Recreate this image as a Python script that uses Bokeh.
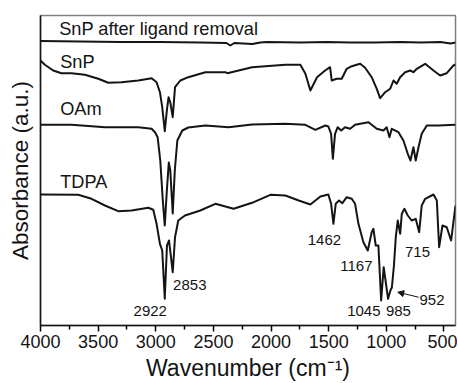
from bokeh.plotting import figure
from bokeh.models import Range1d, FixedTicker, Arrow, NormalHead
from bokeh.core.properties import value
from bokeh.embed import file_html
from bokeh.resources import INLINE

# ---- data (wavenumber in cm^-1, absorbance in a.u., traces offset) ----
wn_removed = [4000, 3655, 3308, 2961, 2614, 2388, 2353, 2318, 2162, 2093, 2032,
              1746, 1520, 1312, 1100, 878, 700, 530, 443, 400]
ab_removed = [2.845, 2.84, 2.835, 2.835, 2.83, 2.825, 2.80, 2.825, 2.815, 2.83, 2.835,
              2.83, 2.835, 2.83, 2.83, 2.835, 2.83, 2.835, 2.82, 2.83]

wn_snp = [4000, 3962, 3890, 3818, 3731, 3615, 3499, 3412, 3297, 3152, 3036, 2993,
          2964, 2944, 2922, 2904, 2889, 2874, 2853, 2833, 2787, 2718, 2570, 2397,
          2379, 2165, 1876, 1746, 1702, 1659, 1601, 1531, 1488, 1474, 1431, 1387,
          1344, 1300, 1227, 1184, 1127, 1083, 1054, 1010, 967, 938, 910, 880, 837,
          793, 765, 736, 663, 591, 533, 476, 418, 400]
ab_snp = [2.65, 2.607, 2.55, 2.523, 2.523, 2.507, 2.467, 2.427, 2.433, 2.45, 2.473, 2.433,
          2.333, 2.183, 1.943, 2.15, 2.283, 2.23, 2.083, 2.383, 2.45, 2.483, 2.533, 2.533,
          2.523, 2.583, 2.607, 2.607, 2.517, 2.35, 2.483, 2.55, 2.583, 2.45, 2.467, 2.467,
          2.567, 2.593, 2.617, 2.577, 2.483, 2.367, 2.273, 2.333, 2.367, 2.45, 2.417, 2.483, 2.533,
          2.55, 2.533, 2.567, 2.617, 2.55, 2.50, 2.523, 2.60, 2.61]

wn_oam = [4000, 3731, 3441, 3152, 3036, 3007, 2984, 2961, 2939, 2922, 2904, 2887,
          2874, 2853, 2835, 2813, 2770, 2718, 2570, 2368, 2165, 1876, 1702, 1616,
          1529, 1503, 1479, 1464, 1445, 1422, 1392, 1358, 1314, 1271, 1155, 1083,
          1025, 997, 973, 953, 895, 852, 814, 791, 765, 745, 721, 693, 649, 548, 400]
ab_oam = [2.007, 2.007, 1.983, 1.983, 1.967, 1.933, 1.883, 1.65, 1.25, 1.00, 1.35, 1.63,
          1.55, 1.12, 1.55, 1.85, 1.95, 1.98, 2.00, 1.983, 2.01, 2.017, 2.007, 1.957,
          2.00, 1.99, 1.917, 1.667, 1.917, 1.983, 1.95, 1.983, 1.967, 2.007, 2.033, 1.967,
          1.95, 1.983, 1.883, 1.967, 1.933, 1.85, 1.717, 1.65, 1.783, 1.65, 1.783, 1.917, 2.00, 2.00, 2.007]

wn_tdpa = [4000, 3673, 3557, 3441, 3326, 3210, 3065, 3022, 2993, 2964, 2944, 2922,
           2903, 2885, 2853, 2833, 2805, 2747, 2614, 2483, 2325, 2165, 2006, 1876,
           1760, 1659, 1572, 1503, 1479, 1459, 1439, 1410, 1381, 1344, 1300, 1271,
           1242, 1199, 1161, 1127, 1112, 1092, 1069, 1045, 1023, 985, 965, 952, 934,
           918, 901, 880, 866, 843, 814, 780, 745, 715, 693, 663, 591, 562, 542, 513,
           476, 438, 409, 400]
ab_tdpa = [1.31, 1.307, 1.267, 1.20, 1.143, 1.15, 1.177, 1.157, 1.017, 0.817, 0.75, 0.267,
           0.80, 0.85, 0.533, 0.883, 1.05, 1.10, 1.15, 1.217, 1.167, 1.227, 1.307, 1.30,
           1.25, 1.21, 1.29, 1.31, 1.217, 1.017, 1.217, 1.25, 1.223, 1.283, 1.267, 1.217,
           1.017, 0.833, 0.75, 0.933, 0.967, 0.80, 0.80, 0.25, 0.583, 0.267, 0.35, 0.38, 0.60,
           0.883, 1.05, 0.917, 1.117, 1.167, 1.10, 1.05, 1.067, 0.933, 1.20, 1.267, 1.31, 1.25, 0.783, 1.00,
           0.983, 0.85, 1.117, 1.20]

trace_names = ["SnP after ligand removal", "SnP", "OAm", "TDPA"]
peak_labels = ["2922", "2853", "1462", "1167", "715", "1045", "985", "952"]
x_ticks = [4000, 3500, 3000, 2500, 2000, 1500, 1000, 500]
x_minor = [3750, 3250, 2750, 2250, 1750, 1250, 750]
x_title = "Wavenumber (cm\u207b\u00b9)"
y_title = "Absorbance (a.u.)"

# ---- layout positions (wavenumber, absorbance) for the text ----
name_pos = [(3838, 2.965), (3829, 2.635), (3829, 2.165), (3829, 1.435)]
peak_pos = [(3048, 0.15), (2705, 0.41), (1537, 0.86), (1260, 0.60),
            (730, 0.74), (1195, 0.15), (895, 0.15), (604, 0.26)]

FONT = "Liberation Sans"
INK = "#141414"

p = figure(width=457, height=383, output_backend="svg", toolbar_location=None,
           x_range=Range1d(4000, 400), y_range=Range1d(0, 3.1),
           min_border_left=40, min_border_top=15, min_border_right=2, min_border_bottom=58)
p.grid.visible = False
p.outline_line_color = "#808080"
p.outline_line_width = 1.5

for wn, ab in [(wn_removed, ab_removed), (wn_snp, ab_snp), (wn_oam, ab_oam), (wn_tdpa, ab_tdpa)]:
    p.line(wn, ab, line_color=INK, line_width=2, line_join="round")

p.text(x=[q[0] for q in name_pos], y=[q[1] for q in name_pos], text=trace_names,
       text_font=value(FONT), text_font_size="18.2px", text_color=INK,
       text_baseline="middle", text_align="left")
p.text(x=[q[0] for q in peak_pos], y=[q[1] for q in peak_pos], text=peak_labels,
       text_font=value(FONT), text_font_size="15px", text_color=INK,
       text_baseline="middle", text_align="center")

p.add_layout(Arrow(end=NormalHead(size=6, fill_color=INK, line_color=INK),
                   x_start=720, y_start=0.283, x_end=901, y_end=0.333,
                   line_color=INK, line_width=1))

xa = p.xaxis[0]
xa.ticker = FixedTicker(ticks=x_ticks, minor_ticks=x_minor)
xa.axis_label = x_title
xa.axis_label_text_font = FONT
xa.axis_label_text_font_style = "normal"
xa.axis_label_text_font_size = "23px"
xa.axis_label_text_color = INK
xa.axis_label_standoff = 4
xa.major_label_text_font = FONT
xa.major_label_text_font_size = "18px"
xa.major_label_text_color = INK
xa.major_label_standoff = 3
xa.major_tick_out = 6
xa.major_tick_in = 0
xa.minor_tick_out = 4
xa.minor_tick_in = 0
xa.axis_line_color = INK
xa.axis_line_width = 1.5
xa.major_tick_line_width = 1.5
xa.minor_tick_line_width = 1.5

ya = p.yaxis[0]
ya.ticker = FixedTicker(ticks=[])
ya.axis_label = y_title
ya.axis_label_text_font = FONT
ya.axis_label_text_font_style = "normal"
ya.axis_label_text_font_size = "22.5px"
ya.axis_label_text_color = INK
ya.axis_label_standoff = 8
ya.major_tick_out = 0
ya.minor_tick_out = 0
ya.major_tick_in = 0
ya.minor_tick_in = 0
ya.axis_line_color = INK
ya.axis_line_width = 1.5

open("out.html", "w").write(file_html(p, INLINE))
